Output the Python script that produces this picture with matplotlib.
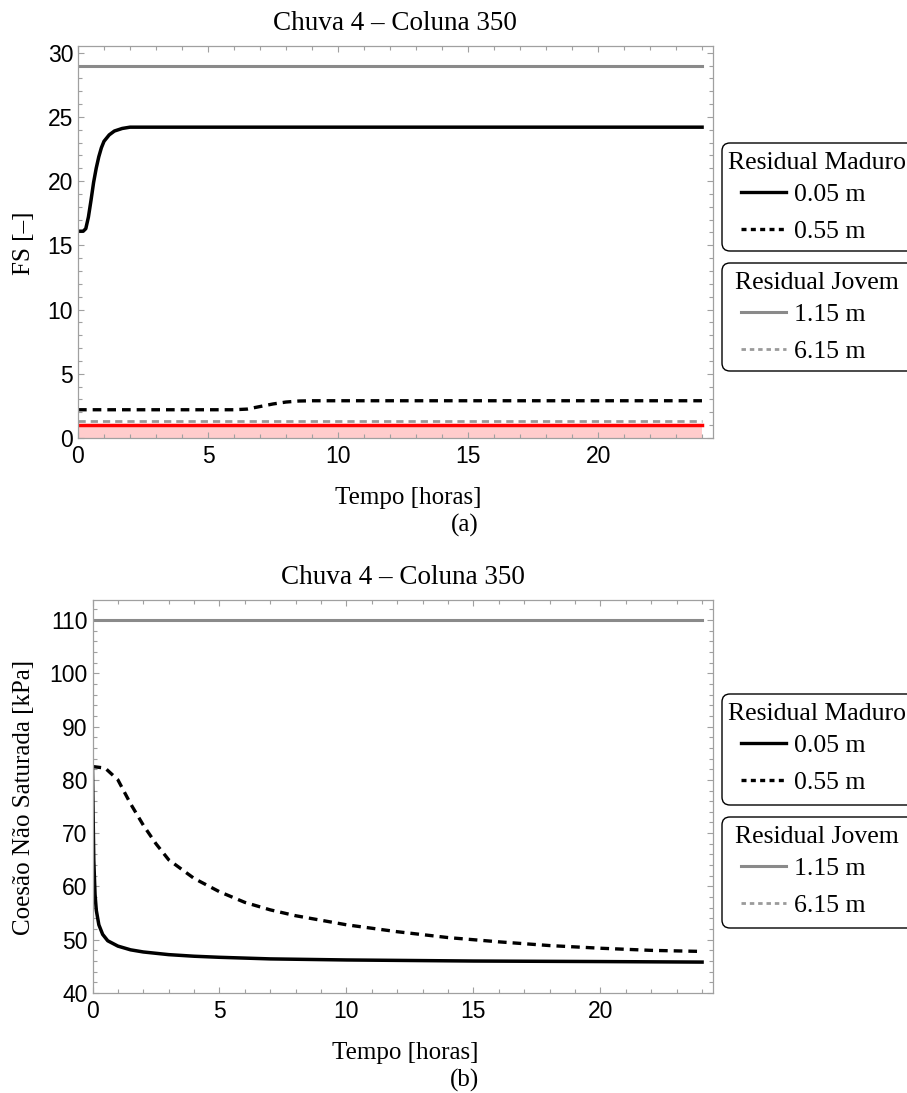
import numpy as np
import matplotlib
matplotlib.use("Agg")
import matplotlib.pyplot as plt
from matplotlib.lines import Line2D
from matplotlib.patches import FancyBboxPatch
from matplotlib.ticker import MultipleLocator

W, H = 907, 1093

# ---- panel (a): FS [-] ----
t_a_m005 = [0, 0.2, 0.3, 0.4, 0.5, 0.6, 0.7, 0.8, 0.9, 1.0, 1.2, 1.4, 1.7, 2.0, 3.0, 24]
fs_m005 = [16.1, 16.1, 16.3, 17.2, 18.5, 19.9, 21.0, 21.9, 22.6, 23.1, 23.6, 23.9, 24.1, 24.2, 24.2, 24.2]
t_a_m055 = [0, 6.0, 6.5, 7.0, 7.5, 8.0, 8.5, 9.0, 24]
fs_m055 = [2.2, 2.2, 2.25, 2.45, 2.65, 2.8, 2.88, 2.9, 2.9]
t_a_j = [0, 24]
fs_j115 = [29.0, 29.0]
fs_j615 = [1.3, 1.3]
fs_limit = [1.0, 1.0]

# ---- panel (b): coesao nao saturada [kPa] ----
t_b_m005 = [0, 0.02, 0.05, 0.1, 0.15, 0.25, 0.4, 0.6, 1.0, 1.5, 2, 3, 4, 5, 7, 10, 15, 20, 24]
c_m005 = [82.0, 75.0, 65.0, 58.5, 55.5, 52.8, 51.0, 49.8, 48.8, 48.1, 47.7, 47.2, 46.9,
          46.7, 46.4, 46.2, 46.0, 45.9, 45.8]
t_b_m055 = [0, 0.5, 1.0, 1.5, 2.0, 2.5, 3.0, 4.0, 5.0, 6, 7, 8, 10, 12, 14, 16, 18, 20, 22, 24]
c_m055 = [82.5, 82.2, 80.0, 75.5, 71.5, 68.0, 65.0, 61.5, 59.0, 57.0, 55.6, 54.5, 52.8,
          51.5, 50.4, 49.6, 48.9, 48.4, 48.0, 47.8]
t_b_j = [0, 24]
c_j115 = [110.0, 110.0]
c_j615 = [110.0, 110.0]

title_txt = "Chuva 4 \u2013 Coluna 350"
xlabel_txt = "Tempo [horas]"
ylabel_a = "FS [\u2013]"
ylabel_b = "Coes\u00e3o N\u00e3o Saturada [kPa]"
leg_m_title = "Residual Maduro"
leg_j_title = "Residual Jovem"
leg_m_labels = ["0.05 m", "0.55 m"]
leg_j_labels = ["1.15 m", "6.15 m"]

SERIF = "Liberation Serif"
SANS = "Liberation Sans"
GRAY = "#8a8a8a"
LGRAY = "#9a9a9a"
SPINE = "#a0a0a0"
DASH = (2.6, 1.8)


def fx(px):
    return px / W


def fy(py):
    return 1 - py / H


def style_axes(ax, ymajor, yminor):
    ax.xaxis.set_major_locator(MultipleLocator(5))
    ax.xaxis.set_minor_locator(MultipleLocator(1))
    ax.yaxis.set_major_locator(MultipleLocator(ymajor))
    ax.yaxis.set_minor_locator(MultipleLocator(yminor))
    ax.tick_params(which="both", direction="in", top=True, right=True,
                   color=SPINE, width=0.8)
    ax.tick_params(which="major", length=4.5)
    ax.tick_params(which="minor", length=2.6)
    ax.tick_params(axis="x", pad=5, labelsize=16.5)
    ax.tick_params(axis="y", pad=3.5, labelsize=16.5)
    for lab in ax.get_xticklabels() + ax.get_yticklabels():
        lab.set_fontfamily(SANS)
    for s in ax.spines.values():
        s.set_color(SPINE)
        s.set_linewidth(0.9)


def legend_box(fig, top, title, handles, labels, bottom_off=109):
    # rounded frame, running past the right edge as in the reference
    box = FancyBboxPatch((7.22, (H - top - bottom_off) / 100), 2.0, bottom_off / 100,
                         boxstyle="round,pad=0,rounding_size=0.08",
                         transform=fig.dpi_scale_trans, fc="white", ec="black", lw=1.0)
    fig.patches.append(box)
    fig.text(fx(817), fy(top + 20), title, ha="center", va="center",
             family=SERIF, fontsize=18.5)
    fig.legend(handles, labels, loc="center",
               bbox_to_anchor=(fx(803), fy(top + 70)), bbox_transform=fig.transFigure,
               prop={"family": SERIF, "size": 18.5}, frameon=False,
               handlelength=1.75, handletextpad=0.3, labelspacing=0.55,
               borderpad=0, borderaxespad=0)


def add_legends(fig, top1, top2, off=109):
    hm = [Line2D([], [], color="k", lw=2.4),
          Line2D([], [], color="k", lw=2.4, ls=(0, (1.5, 1.3)))]
    hj = [Line2D([], [], color=GRAY, lw=2.2),
          Line2D([], [], color=LGRAY, lw=2.0, ls=(0, (1.6, 1.4)))]
    legend_box(fig, top1, leg_m_title, hm, leg_m_labels, off)
    legend_box(fig, top2, leg_j_title, hj, leg_j_labels, off)


fig = plt.figure(figsize=(W / 100, H / 100), dpi=100)

# panel (a)
ax1 = fig.add_axes([fx(78), fy(438), fx(713) - fx(78), fy(46) - fy(438)])
ax1.fill_between(t_a_j, 0, fs_limit, color="#ffcccc", lw=0)
ax1.plot(t_a_j, fs_limit, color="red", lw=2.5)
ax1.plot(t_a_j, fs_j615, color=LGRAY, lw=2.0, ls=(0, DASH))
ax1.plot(t_a_j, fs_j115, color=GRAY, lw=2.2)
ax1.plot(t_a_m055, fs_m055, color="k", lw=2.4, ls=(0, DASH))
ax1.plot(t_a_m005, fs_m005, color="k", lw=2.5)
ax1.set_xlim(0, 24.42)
ax1.set_ylim(0, 30.52)
style_axes(ax1, 5, 1)

# panel (b)
ax2 = fig.add_axes([fx(92.5), fy(993), fx(713) - fx(92.5), fy(600) - fy(993)])
ax2.plot(t_b_j, c_j615, color=LGRAY, lw=2.0, ls=(0, DASH))
ax2.plot(t_b_j, c_j115, color=GRAY, lw=2.2)
ax2.plot(t_b_m055, c_m055, color="k", lw=2.4, ls=(0, DASH))
ax2.plot(t_b_m005, c_m005, color="k", lw=2.5)
ax2.set_xlim(0, 24.43)
ax2.set_ylim(40, 113.75)
style_axes(ax2, 10, 2)

# titles and labels
fig.text(fx(395), fy(24), title_txt, ha="center", va="center", family=SERIF, fontsize=19.5)
fig.text(fx(403), fy(577), title_txt, ha="center", va="center", family=SERIF, fontsize=19.5)
fig.text(fx(408), fy(498), xlabel_txt, ha="center", va="center", family=SERIF, fontsize=18)
fig.text(fx(405), fy(1053), xlabel_txt, ha="center", va="center", family=SERIF, fontsize=18)
fig.text(fx(465), fy(525), "(a)", ha="center", va="center", family=SERIF, fontsize=18)
fig.text(fx(465), fy(1080), "(b)", ha="center", va="center", family=SERIF, fontsize=18)
fig.text(fx(24), fy(243), ylabel_a, ha="center", va="center", rotation=90,
         family=SERIF, fontsize=18)
fig.text(fx(24), fy(797), ylabel_b, ha="center", va="center", rotation=90,
         family=SERIF, fontsize=18)

add_legends(fig, 143, 263, 108)
add_legends(fig, 694, 817, 111)

fig.savefig("out.png", dpi=100)
plt.close(fig)
